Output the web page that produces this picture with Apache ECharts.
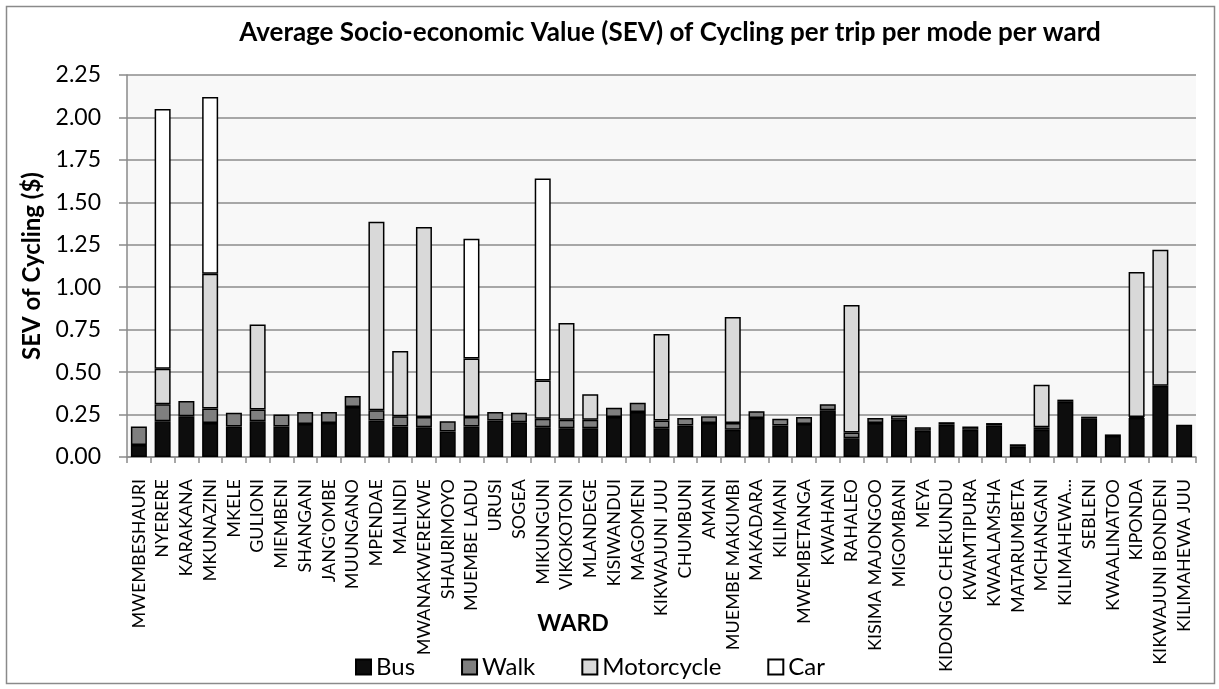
<!DOCTYPE html>
<html>
<head>
<meta charset="utf-8">
<script src="https://cdn.jsdelivr.net/npm/echarts@6/dist/echarts.min.js"></script>
<style>
html,body{margin:0;padding:0;background:#fff;}
#chart{width:1219px;height:689px;}
</style>
</head>
<body>
<div id="chart"></div>
<script>
const wards = ["MWEMBESHAURI","NYERERE","KARAKANA","MKUNAZINI","MKELE","GULIONI","MIEMBENI","SHANGANI","JANG'OMBE","MUUNGANO","MPENDAE","MALINDI","MWANAKWEREKWE","SHAURIMOYO","MUEMBE LADU","URUSI","SOGEA","MIKUNGUNI","VIKOKOTONI","MLANDEGE","KISIWANDUI","MAGOMENI","KIKWAJUNI JUU","CHUMBUNI","AMANI","MUEMBE MAKUMBI","MAKADARA","KILIMANI","MWEMBETANGA","KWAHANI","RAHALEO","KISIMA MAJONGOO","MIGOMBANI","MEYA","KIDONGO CHEKUNDU","KWAMTIPURA","KWAALAMSHA","MATARUMBETA","MCHANGANI","KILIMAHEWA...","SEBLENI","KWAALINATOO","KIPONDA","KIKWAJUNI BONDENI","KILIMAHEWA JUU"];

const busValues = [0.07,0.21,0.24,0.20,0.18,0.21,0.18,0.195,0.20,0.295,0.215,0.18,0.175,0.15,0.18,0.215,0.205,0.175,0.17,0.17,0.235,0.265,0.17,0.185,0.20,0.16,0.23,0.185,0.195,0.275,0.11,0.20,0.22,0.155,0.19,0.16,0.185,0.06,0.16,0.325,0.228,0.123,0.23,0.42,0.19];
const walkValues = [0.11,0.10,0.09,0.085,0.08,0.07,0.07,0.07,0.065,0.065,0.06,0.06,0.06,0.06,0.055,0.05,0.055,0.05,0.05,0.05,0.055,0.055,0.045,0.045,0.04,0.04,0.04,0.04,0.04,0.035,0.035,0.03,0.025,0.02,0.015,0.02,0.015,0.015,0.015,0.013,0.01,0.01,0.005,null,null];
const motorcycleValues = [null,0.21,null,0.795,null,0.50,null,null,null,null,1.11,0.385,1.12,null,0.345,null,null,0.225,0.57,0.15,null,null,0.51,null,null,0.625,null,null,null,null,0.75,null,null,null,null,null,null,null,0.25,null,null,null,0.855,0.80,null];
const carValues = [null,1.53,null,1.04,null,null,null,null,null,null,null,null,null,null,0.705,null,null,1.19,null,null,null,null,null,null,null,null,null,null,null,null,null,null,null,null,null,null,null,null,null,null,null,null,null,null,null];
const yTicks = {min: 0, max: 2.25, interval: 0.25};

const FONT = 'Lato';
const chart = echarts.init(document.getElementById('chart'), null, {renderer: 'canvas'});

function mk(name, data, color) {
  return {
    name: name, type: 'bar', stack: 'sev', data: data, barWidth: 16,
    itemStyle: {color: color, borderColor: '#000', borderWidth: 1.5},
    emphasis: {disabled: true}
  };
}

chart.setOption({
  animation: false,
  backgroundColor: '#fff',
  textStyle: {fontFamily: FONT},
  title: [
    {text: 'Average Socio-economic Value (SEV) of Cycling per trip per mode per ward',
     left: 665, top: 15, textAlign: 'center',
     textStyle: {fontFamily: FONT, fontWeight: 'bold', fontSize: 26, color: '#000'}},
    {text: 'WARD', left: 568, top: 607, textAlign: 'center',
     textStyle: {fontFamily: FONT, fontWeight: 'bold', fontSize: 23, color: '#000'}}
  ],
  graphic: [{type: 'rect', shape: {x: 6.5, y: 6.5, width: 1208, height: 677},
    style: {fill: 'none', stroke: '#8a8a8a', lineWidth: 1.5}, silent: true}],
  legend: {
    left: 350, top: 650, itemWidth: 15, itemHeight: 15, itemGap: 46, icon: 'rect',
    textStyle: {fontFamily: FONT, fontSize: 24, color: '#000'},
    data: ['Bus','Walk','Motorcycle','Car']
  },
  grid: {left: 127, right: 23, top: 75, bottom: 232, show: true, backgroundColor: '#f8f8f8', borderWidth: 0},
  xAxis: {
    type: 'category', data: wards,
    axisLine: {lineStyle: {color: '#8a8a8a', width: 1.5}},
    axisTick: {show: true, length: 6, lineStyle: {color: '#8a8a8a', width: 1.5}},
    axisLabel: {rotate: 90, interval: 0, fontSize: 18, margin: 22, color: '#000', fontFamily: FONT}
  },
  yAxis: {
    type: 'value', min: yTicks.min, max: yTicks.max, interval: yTicks.interval,
    name: 'SEV of Cycling ($)', nameLocation: 'middle', nameRotate: 90, nameGap: 82,
    nameTextStyle: {fontFamily: FONT, fontWeight: 'bold', fontSize: 24, color: '#000'},
    axisLine: {show: true, lineStyle: {color: '#8a8a8a', width: 1.5}},
    axisTick: {show: true, length: 8, lineStyle: {color: '#8a8a8a', width: 1.5}},
    axisLabel: {fontSize: 23, margin: 26, color: '#000', fontFamily: FONT, formatter: v => v.toFixed(2)},
    splitLine: {lineStyle: {color: '#8c8c8c', width: 1.5}}
  },
  series: [
    mk('Bus', busValues, '#0d0d0d'),
    mk('Walk', walkValues, '#7f7f7f'),
    mk('Motorcycle', motorcycleValues, '#d9d9d9'),
    mk('Car', carValues, '#ffffff')
  ]
});
</script>
</body>
</html>
